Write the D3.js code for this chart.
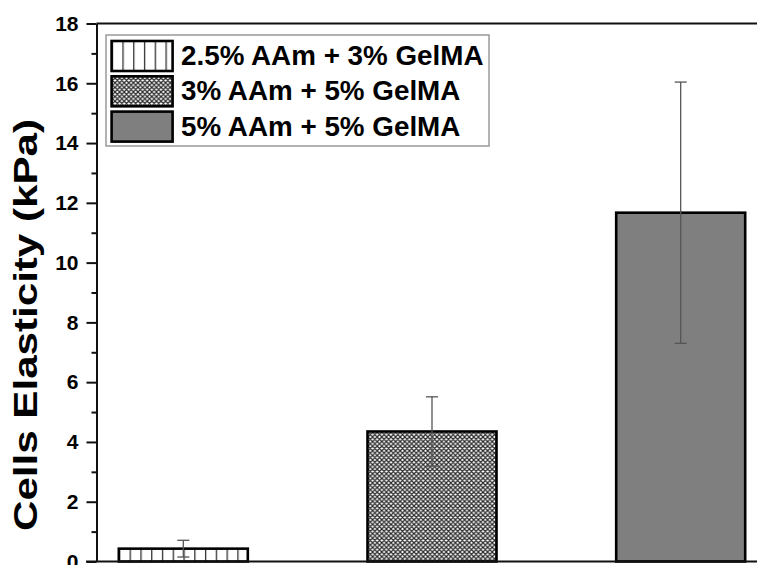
<!DOCTYPE html>
<html>
<head>
<meta charset="utf-8">
<script src="https://cdn.jsdelivr.net/npm/d3@7"></script>
<style>
  html, body { margin: 0; padding: 0; background: #fff; }
  svg { display: block; }
  text { font-family: "Liberation Sans", Arial, sans-serif; font-weight: bold; fill: #000; }
</style>
</head>
<body>
<svg id="chart" width="757" height="565"></svg>
<script>
// ---- data ----
const categories = ["2.5% AAm + 3% GelMA", "3% AAm + 5% GelMA", "5% AAm + 5% GelMA"];
const means = [0.43, 4.35, 11.67];
const errors = [0.28, 1.16, 4.37];
const majorTicks = [0, 2, 4, 6, 8, 10, 12, 14, 16, 18];
const minorTicks = [1, 3, 5, 7, 9, 11, 13, 15, 17];
const yTitle = "Cells Elasticity (kPa)";
const fills = ["url(#vlinesBar)", "url(#cross)", "#7f7f7f"];
const legendFills = ["url(#vlinesLeg)", "url(#cross)", "#7f7f7f"];

const svg = d3.select("#chart");
const axisX = 96.5, yTop = 23.5, yBottom = 561.5;

const y = d3.scaleLinear().domain([0, 18]).range([yBottom, yTop]);
const x = d3.scaleBand().domain(categories).range([axisX, 767.5])
  .paddingInner(0.4813).paddingOuter(0.0897);

// ---- patterns ----
const defs = svg.append("defs");
function vlines(id, x0) {
  const p = defs.append("pattern").attr("id", id).attr("patternUnits", "userSpaceOnUse")
    .attr("x", x0).attr("y", 0).attr("width", 10.77).attr("height", 10);
  p.append("rect").attr("width", 10.77).attr("height", 10).attr("fill", "#fff");
  p.append("line").attr("x1", 0.6).attr("x2", 0.6).attr("y1", 0).attr("y2", 10)
    .attr("stroke", "#333").attr("stroke-width", 1.4);
}
vlines("vlinesBar", x(categories[0]));
vlines("vlinesLeg", 111.6);
const P = 4.6;
const cp = defs.append("pattern").attr("id", "cross").attr("patternUnits", "userSpaceOnUse")
  .attr("width", P).attr("height", P);
cp.append("rect").attr("width", P).attr("height", P).attr("fill", "#fff");
cp.append("path").attr("d", `M0,0L${P},${P}M${P},0L0,${P}M-1,${P-1}L1,${P+1}M${P-1},-1L${P+1},1M${P-1},${P+1}L${P+1},${P-1}M-1,1L1,-1`)
  .attr("stroke", "#2a2a2a").attr("stroke-width", 1.25);

// ---- bars ----
svg.append("g").selectAll("rect").data(categories).join("rect")
  .attr("x", d => x(d))
  .attr("y", (d, i) => y(means[i]))
  .attr("width", x.bandwidth())
  .attr("height", (d, i) => y(0) - y(means[i]))
  .attr("fill", (d, i) => fills[i])
  .attr("stroke", "#000").attr("stroke-width", 2.6);

// ---- error bars ----
const eb = svg.append("g").attr("stroke", "#555").attr("stroke-width", 1.3);
categories.forEach((c, i) => {
  const cx = x(c) + x.bandwidth() / 2;
  const hi = y(means[i] + errors[i]), lo = y(means[i] - errors[i]);
  eb.append("line").attr("x1", cx).attr("x2", cx).attr("y1", hi).attr("y2", lo);
  eb.append("line").attr("x1", cx - 6).attr("x2", cx + 6).attr("y1", hi).attr("y2", hi);
  eb.append("line").attr("x1", cx - 6).attr("x2", cx + 6).attr("y1", lo).attr("y2", lo);
});

// ---- frame lines ----
svg.append("line").attr("x1", axisX).attr("x2", 757).attr("y1", yTop).attr("y2", yTop)
  .attr("stroke", "#111").attr("stroke-width", 2);
svg.append("line").attr("x1", 86).attr("x2", 757).attr("y1", yBottom).attr("y2", yBottom)
  .attr("stroke", "#111").attr("stroke-width", 2);

// ---- y axis ----
const gy = svg.append("g").attr("transform", `translate(${axisX},0)`)
  .call(d3.axisLeft(y).tickValues(majorTicks).tickSize(10).tickSizeOuter(0).tickPadding(8).tickFormat(d3.format("d")));
gy.select(".domain").attr("stroke", "#111").attr("stroke-width", 2);
gy.selectAll(".tick line").attr("stroke", "#111").attr("stroke-width", 2);
gy.selectAll(".tick text").attr("font-size", 21).attr("font-family", "'Liberation Sans', Arial, sans-serif")
  .attr("font-weight", "bold").attr("fill", "#000");
const gm = svg.append("g").attr("transform", `translate(${axisX},0)`)
  .call(d3.axisLeft(y).tickValues(minorTicks).tickSize(5).tickSizeOuter(0).tickFormat(""));
gm.select(".domain").remove();
gm.selectAll(".tick line").attr("stroke", "#111").attr("stroke-width", 2);

// ---- y title ----
svg.append("text")
  .attr("transform", "translate(36.5,325) rotate(-90)")
  .attr("text-anchor", "middle")
  .attr("font-size", 33)
  .attr("textLength", 412).attr("lengthAdjust", "spacingAndGlyphs")
  .text(yTitle);

// ---- legend ----
const lg = svg.append("g");
lg.append("rect").attr("x", 106).attr("y", 35).attr("width", 383).attr("height", 111)
  .attr("fill", "#fff").attr("stroke", "#999").attr("stroke-width", 1.5);
const rowY = [41, 76.3, 111.6];
categories.forEach((c, i) => {
  lg.append("rect").attr("x", 111.6).attr("y", rowY[i]).attr("width", 61).attr("height", 30)
    .attr("fill", legendFills[i]).attr("stroke", "#000").attr("stroke-width", 2.6);
  lg.append("text").attr("x", 181).attr("y", rowY[i] + 24)
    .attr("font-size", 27.8).text(c);
});
</script>
</body>
</html>
